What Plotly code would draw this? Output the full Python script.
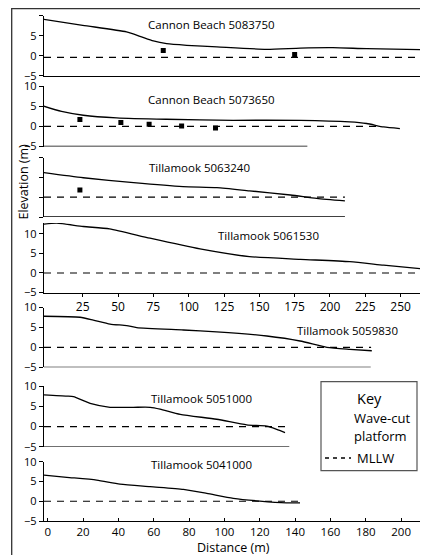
import plotly.graph_objects as go

W, H = 428, 555
OFF = 8  # the page places the figure 8px in from the window's top-left corner
FONT = "Open Sans"

# ---------------- data ----------------
titles = ["Cannon Beach 5083750", "Cannon Beach 5073650", "Tillamook 5063240",
          "Tillamook 5061530", "Tillamook 5059830", "Tillamook 5051000",
          "Tillamook 5041000"]

p1_x = [-2.6, 25, 56, 65.5, 75, 84.4, 98.6, 120, 155, 179, 202, 226, 269.4]
p1_y = [9.1, 7.6, 5.95, 4.86, 3.68, 3.0, 2.6, 2.2, 1.6, 1.9, 2.0, 1.75, 1.5]
p2_x = [-2.6, 10, 25.4, 49, 84, 131.5, 179, 214, 226, 238, 249.5]
p2_y = [5.0, 3.7, 2.75, 2.1, 1.75, 1.5, 1.5, 1.1, 0.7, -0.15, -0.55]
p3_x = [-2.6, 25.4, 61, 96, 120, 143, 172, 190.6, 210.6]
p3_y = [6.2, 4.9, 3.65, 2.65, 2.4, 1.6, 0.55, -0.3, -0.95]
p4_x = [-2.6, 6.6, 25.4, 44, 72.6, 108, 143, 179, 214, 238, 269.4]
p4_y = [12.5, 12.75, 11.9, 11.3, 8.9, 6.15, 4.2, 3.5, 2.9, 2.0, 0.9]
p5_x = [-2.1, 18.3, 25.8, 35.3, 44.7, 50.4, 76.8, 95.6, 124, 142.8, 158, 171, 183.4]
p5_y = [7.8, 7.55, 6.85, 5.85, 5.45, 4.95, 4.35, 3.9, 2.85, 1.6, 0, -0.5, -0.85]
p6_x = [-2.1, 10.8, 14.6, 24, 35.3, 48.4, 58, 63.6, 75, 95.6, 112.6, 124, 129.6, 134.3]
p6_y = [7.8, 7.5, 7.35, 5.7, 4.75, 4.75, 4.75, 4.3, 3.0, 1.8, 0.4, 0.1, -0.7, -1.5]
p7_x = [-2.1, 10.8, 27.7, 40.9, 57.9, 76.8, 90, 105, 120, 135, 142.8]
p7_y = [6.6, 6.05, 5.35, 4.35, 3.7, 3.0, 2.0, 0.75, 0.05, -0.4, -0.4]

profiles_x = [p1_x, p2_x, p3_x, p4_x, p5_x, p6_x, p7_x]
profiles_y = [p1_y, p2_y, p3_y, p4_y, p5_y, p6_y, p7_y]

# wave-cut platform points
wc_x = [[82, 175, 268.4], [23, 52, 72, 95, 119], [23], [], [], [], []]
wc_y = [[1.3, 0.3, -2.2], [1.7, 0.95, 0.5, 0.1, -0.4], [1.8], [], [], [], []]

# MLLW level and extent per panel
mllw_level = [-0.4, 0, 0, 0, 0, 0, 0]
mllw_end = [269.4, 233, 210.6, 269.4, 183, 134.7, 142.8]

# extent of each panel's baseline (None = full width)
axis_end = [None, 184, 210.6, None, 182.8, 136.7, None]

ticks_top = [25, 50, 75, 100, 125, 150, 175, 200, 225, 250]
ticks_bottom = [0, 20, 40, 60, 80, 100, 120, 140, 160, 180, 200]
y_ticks = [-5, 0, 5, 10]

# ---------------- layout helpers (pixel geometry in window coordinates) ----------------
def fx(p):
    return (p - OFF) / W

def fy(p):
    return 1 - (p - OFF) / H

rangeA = [-2.41, 269.4]
rangeB = [-2.09, 215.2]
x_ranges = [rangeA, rangeA, rangeA, rangeA, rangeB, rangeB, rangeB]
# (pixel bottom, pixel top, y range)
y_geo = [(75.7, 15.7, [-5, 10]), (146.5, 86, [-5, 10]), (217, 157.5, [-5, 10]),
         (292.5, 223, [-5, 12.8]), (367.3, 307.5, [-5, 10]), (446.8, 386, [-5, 10]),
         (521, 461.7, [-5, 10])]
title_pos = [(211, 24), (211, 99), (199, 167.7), (268, 235), (347, 330),
             (201.7, 398), (201.7, 464)]

fig = go.Figure()
shapes = []
annotations = []

for i in range(7):
    n = "" if i == 0 else str(i + 1)
    xa, ya = "x" + n, "y" + n
    fig.add_trace(go.Scatter(x=profiles_x[i], y=profiles_y[i], mode="lines",
                             line=dict(color="black", width=1.3, shape="spline", smoothing=0.6),
                             xaxis=xa, yaxis=ya, showlegend=False, hoverinfo="skip"))
    fig.add_trace(go.Scatter(x=[x_ranges[i][0], mllw_end[i]], y=[mllw_level[i]] * 2, mode="lines",
                             line=dict(color="black", width=1.2, dash="7px,6px"),
                             xaxis=xa, yaxis=ya, showlegend=False, hoverinfo="skip"))
    if wc_x[i]:
        fig.add_trace(go.Scatter(x=wc_x[i], y=wc_y[i], mode="markers",
                                 marker=dict(symbol="square", size=5, color="black"),
                                 xaxis=xa, yaxis=ya, showlegend=False, hoverinfo="skip"))
    full = axis_end[i] is None
    xaxis = dict(domain=[fx(44), fx(428)], range=x_ranges[i], anchor=ya, automargin=False,
                 showgrid=False, zeroline=False, showline=full,
                 linecolor="black", linewidth=1.3, showticklabels=False, ticks="")
    if i == 3:
        xaxis.update(tickvals=ticks_top, showticklabels=True, ticks="outside",
                     ticklen=3, tickwidth=1.2, tickcolor="black",
                     tickfont=dict(family=FONT, size=12, color="black"))
    if i == 6:
        xaxis.update(tickvals=ticks_bottom, showticklabels=True, ticks="inside",
                     ticklen=3, tickwidth=1.2, tickcolor="black",
                     ticklabelstandoff=0,
                     tickfont=dict(family=FONT, size=11.5, color="black"))
    pb, pt, yr = y_geo[i]
    yaxis = dict(domain=[fy(pb), fy(pt)], range=yr, anchor=xa, automargin=False,
                 showgrid=False, zeroline=False, showline=True,
                 linecolor="black", linewidth=1.3, tickvals=y_ticks,
                 ticks="outside", ticklen=4, tickwidth=1.2, tickcolor="black",
                 showticklabels=(i != 2),
                 tickfont=dict(family=FONT, size=11, color="black"))
    key = "" if i == 0 else str(i + 1)
    fig.update_layout(**{"xaxis" + key: xaxis, "yaxis" + key: yaxis})
    if not full:
        shapes.append(dict(type="line", xref=xa, yref=ya, x0=x_ranges[i][0], x1=axis_end[i],
                           y0=yr[0], y1=yr[0], line=dict(color="black", width=1.3)))
    tx, ty = title_pos[i]
    annotations.append(dict(text=titles[i], xref="paper", yref="paper", x=fx(tx), y=fy(ty),
                            xanchor="center", yanchor="middle", showarrow=False,
                            font=dict(family=FONT, size=11.5, color="black")))

# outer frame (top edge kept just inside the drawable area)
shapes.append(dict(type="rect", xref="paper", yref="paper", x0=fx(11.7), x1=fx(450),
                   y0=fy(580), y1=fy(8.7), line=dict(color="#333", width=1.3)))
# key box
shapes.append(dict(type="rect", xref="paper", yref="paper", x0=fx(321), x1=fx(417),
                   y0=fy(470.7), y1=fy(381.7), line=dict(color="#555", width=1.2),
                   fillcolor="white", layer="above"))
shapes.append(dict(type="line", xref="paper", yref="paper", x0=fx(325), x1=fx(351),
                   y0=fy(458), y1=fy(458), line=dict(color="black", width=1.3, dash="4px,4px")))

annotations += [
    dict(text="Key", x=fx(369), y=fy(398), font=dict(family=FONT, size=14.5, color="black")),
    dict(text="Wave-cut", x=fx(382), y=fy(418), font=dict(family=FONT, size=13, color="black")),
    dict(text="platform", x=fx(380), y=fy(435.5), font=dict(family=FONT, size=13, color="black")),
    dict(text="MLLW", x=fx(355), y=fy(458), xanchor="left",
         font=dict(family=FONT, size=13, color="black")),
    dict(text="Elevation (m)", x=fx(22.5), y=fy(182), textangle=-90,
         font=dict(family=FONT, size=12.5, color="black")),
    dict(text="Distance (m)", x=fx(233), y=fy(547.5),
         font=dict(family=FONT, size=12.5, color="black")),
]
for a in annotations[7:]:
    a.setdefault("xref", "paper")
    a.setdefault("yref", "paper")
    a.setdefault("xanchor", "center")
    a.setdefault("yanchor", "middle")
    a.setdefault("showarrow", False)

fig.update_layout(width=W, height=H, margin=dict(l=0, r=0, t=0, b=0, pad=0, autoexpand=False),
                  paper_bgcolor="white", plot_bgcolor="white", template="none",
                  shapes=shapes, annotations=annotations, showlegend=False)

fig.write_html("out.html")
